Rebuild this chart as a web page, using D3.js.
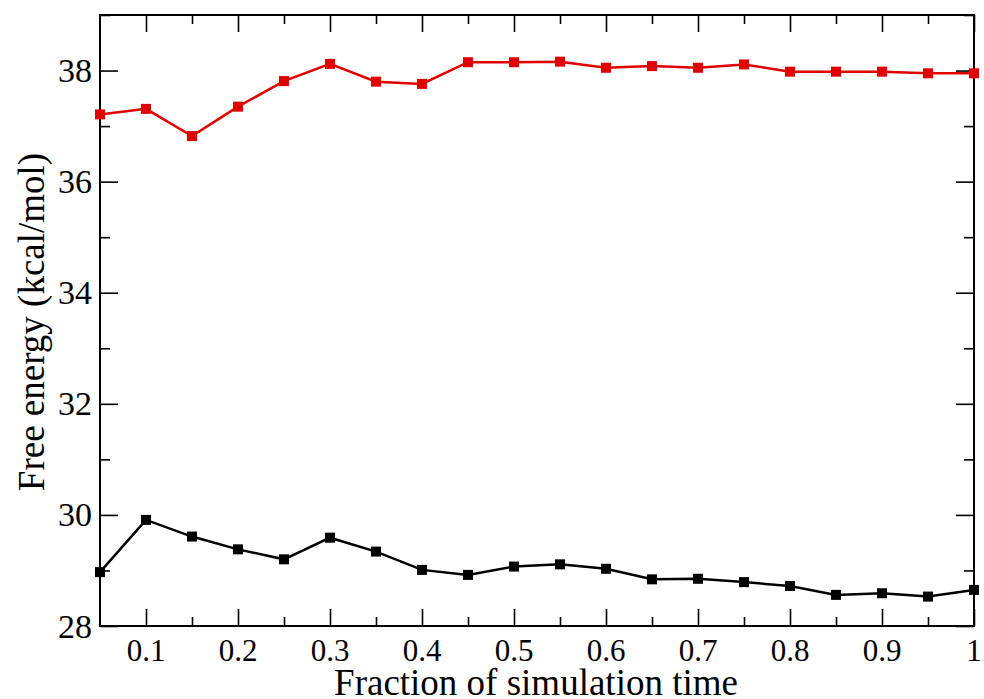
<!DOCTYPE html>
<html>
<head>
<meta charset="utf-8">
<script src="https://cdn.jsdelivr.net/npm/d3@7"></script>
<style>
  body { margin: 0; background: #fff; }
  svg { display: block; }
  text { font-family: "Liberation Serif", "Times New Roman", serif; fill: #000; }
</style>
</head>
<body>
<svg id="chart"></svg>
<script>
var w = 984;
var h = 699;

// fraction of simulation time
var fractions = [0.05, 0.1, 0.15, 0.2, 0.25, 0.3, 0.35, 0.4, 0.45, 0.5,
                 0.55, 0.6, 0.65, 0.7, 0.75, 0.8, 0.85, 0.9, 0.95, 1.0];
// upper series (red)
var redValues = [37.21, 37.31, 36.82, 37.35, 37.81, 38.12, 37.80, 37.76, 38.15, 38.15,
                 38.16, 38.05, 38.08, 38.05, 38.11, 37.98, 37.98, 37.98, 37.95, 37.95];
// lower series (black)
var blackValues = [28.97, 29.91, 29.61, 29.38, 29.20, 29.59, 29.34, 29.01, 28.92, 29.07,
                   29.11, 29.03, 28.84, 28.85, 28.79, 28.72, 28.56, 28.59, 28.53, 28.65];

var xTicks = [0.1, 0.2, 0.3, 0.4, 0.5, 0.6, 0.7, 0.8, 0.9, 1];
var xMinor = [0.15, 0.25, 0.35, 0.45, 0.55, 0.65, 0.75, 0.85, 0.95];
var yTicks = [28, 30, 32, 34, 36, 38];
var yMinor = [29, 31, 33, 35, 37, 39];

// plot box (note: "top" is a reserved window prop, so use pTop)
var pLeft = 100, pRight = 974, pTop = 15, pBottom = 626;

var svg = d3.select("#chart")
  .attr("width", w)
  .attr("height", h);

var x = d3.scaleLinear().domain([0.05, 1]).range([pLeft, pRight]);
var y = d3.scaleLinear().domain([28, 39]).range([pBottom, pTop]);

function fmtX(d) { return d === 1 ? "1" : d3.format(".1f")(d); }

function ticks(axis, tx, ty) {
  svg.append("g")
    .attr("transform", "translate(" + tx + "," + ty + ")")
    .call(axis)
    .call(function(g) { g.select(".domain").remove(); });
}

// bottom + mirrored top
ticks(d3.axisTop(x).tickValues(xTicks).tickSize(17).tickFormat(""), 0, pBottom);
ticks(d3.axisTop(x).tickValues(xMinor).tickSize(9).tickFormat(""), 0, pBottom);
ticks(d3.axisBottom(x).tickValues(xTicks).tickSize(17).tickFormat(""), 0, pTop);
ticks(d3.axisBottom(x).tickValues(xMinor).tickSize(9).tickFormat(""), 0, pTop);
// left + mirrored right
ticks(d3.axisRight(y).tickValues(yTicks).tickSize(18).tickFormat(""), pLeft, 0);
ticks(d3.axisRight(y).tickValues(yMinor).tickSize(10).tickFormat(""), pLeft, 0);
ticks(d3.axisLeft(y).tickValues(yTicks).tickSize(18).tickFormat(""), pRight, 0);
ticks(d3.axisLeft(y).tickValues(yMinor).tickSize(10).tickFormat(""), pRight, 0);

svg.selectAll(".tick line")
  .attr("stroke", "#000")
  .attr("stroke-width", 1.6);

// tick labels
svg.append("g").selectAll("text")
  .data(xTicks)
  .enter().append("text")
  .attr("x", function(d) { return x(d); })
  .attr("y", 661)
  .attr("text-anchor", "middle")
  .style("font-size", "31px")
  .text(fmtX);

svg.append("g").selectAll("text")
  .data(yTicks)
  .enter().append("text")
  .attr("x", pLeft - 8)
  .attr("y", function(d) { return y(d); })
  .attr("dy", "0.34em")
  .attr("text-anchor", "end")
  .style("font-size", "34px")
  .text(function(d) { return d; });

// frame
svg.append("rect")
  .attr("x", pLeft)
  .attr("y", pTop)
  .attr("width", pRight - pLeft)
  .attr("height", pBottom - pTop)
  .attr("fill", "none")
  .attr("stroke", "#000")
  .attr("stroke-width", 2);

// series
function drawSeries(values, color) {
  var pts = fractions.map(function(f, i) { return [f, values[i]]; });
  var line = d3.line()
    .x(function(d) { return x(d[0]); })
    .y(function(d) { return y(d[1]); });

  svg.append("path")
    .datum(pts)
    .attr("d", line)
    .attr("fill", "none")
    .attr("stroke", color)
    .attr("stroke-width", 2.5);

  var s = 10;
  svg.append("g").selectAll("rect")
    .data(pts)
    .enter().append("rect")
    .attr("x", function(d) { return x(d[0]) - s / 2; })
    .attr("y", function(d) { return y(d[1]) - s / 2; })
    .attr("width", s)
    .attr("height", s)
    .attr("fill", color);
}

drawSeries(redValues, "#e00000");
drawSeries(blackValues, "#000");

// axis titles
svg.append("text")
  .attr("x", (pLeft + pRight) / 2 - 1)
  .attr("y", 695)
  .attr("text-anchor", "middle")
  .style("font-size", "37px")
  .text("Fraction of simulation time");

svg.append("text")
  .attr("transform", "translate(44," + 322 + ") rotate(-90)")
  .attr("text-anchor", "middle")
  .style("font-size", "37px")
  .text("Free energy (kcal/mol)");
</script>
</body>
</html>
